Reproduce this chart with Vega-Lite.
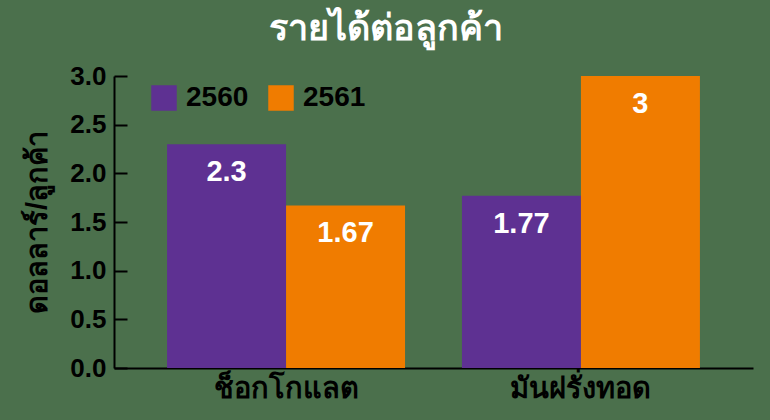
{
  "$schema": "https://vega.github.io/schema/vega-lite/v6.json",
  "width": 639,
  "height": 292,
  "autosize": {"type": "none"},
  "padding": {"left": 114, "top": 76, "right": 17, "bottom": 52},
  "background": "#4b704c",
  "config": {"view": {"stroke": null}},
  "title": {
    "text": "รายได้ต่อลูกค้า",
    "fontSize": 36,
    "fontWeight": "bold",
    "color": "white",
    "font": "Liberation Sans",
    "anchor": "middle",
    "dx": -48,
    "offset": 15
  },
  "data": {
    "values": [
      {"item": "ช็อกโกแลต", "year": "2560", "value": 2.3, "label": "2.3"},
      {"item": "ช็อกโกแลต", "year": "2561", "value": 1.67, "label": "1.67"},
      {"item": "มันฝรั่งทอด", "year": "2560", "value": 1.77, "label": "1.77"},
      {"item": "มันฝรั่งทอด", "year": "2561", "value": 3, "label": "3"}
    ]
  },
  "encoding": {
    "x": {
      "field": "item",
      "type": "nominal",
      "sort": null,
      "title": null,
      "scale": {"paddingInner": 0.193, "paddingOuter": 0.18},
      "axis": {
        "labelAngle": 0,
        "ticks": false,
        "domainColor": "black",
        "domainWidth": 2,
        "labelFontSize": 29,
        "labelFontWeight": "bold",
        "labelColor": "black",
        "labelFont": "Liberation Sans",
        "labelPadding": 6,
        "labelDx": -14
      }
    },
    "xOffset": {"field": "year", "type": "nominal", "scale": {"paddingInner": 0, "paddingOuter": 0}},
    "y": {
      "field": "value",
      "type": "quantitative",
      "title": "ดอลลาร์/ลูกค้า",
      "scale": {"domain": [0, 3], "nice": false},
      "axis": {
        "values": [0, 0.5, 1, 1.5, 2, 2.5, 3],
        "format": ".1f",
        "grid": false,
        "domainColor": "black",
        "domainWidth": 2,
        "tickColor": "black",
        "tickWidth": 2,
        "tickSize": -13,
        "labelFontSize": 26,
        "labelFontWeight": "bold",
        "labelColor": "black",
        "labelFont": "Liberation Sans",
        "labelPadding": 21,
        "titleFontSize": 29,
        "titleFontWeight": "bold",
        "titleColor": "black",
        "titleFont": "Liberation Sans",
        "titlePadding": 17
      }
    }
  },
  "layer": [
    {
      "mark": {"type": "bar"},
      "encoding": {
        "color": {
          "field": "year",
          "type": "nominal",
          "title": null,
          "scale": {"domain": ["2560", "2561"], "range": ["#5e3192", "#f07c00"]},
          "legend": {
            "orient": "none",
            "legendX": 36,
            "legendY": 8,
            "direction": "horizontal",
            "symbolType": "square",
            "symbolSize": 650,
            "symbolOpacity": 1,
            "symbolStrokeWidth": 0,
            "labelFontSize": 28,
            "labelFontWeight": "bold",
            "labelColor": "black",
            "labelFont": "Liberation Sans",
            "labelOffset": 8,
            "columnPadding": 18
          }
        }
      }
    },
    {
      "mark": {
        "type": "text",
        "baseline": "middle",
        "dy": 28,
        "color": "white",
        "fontSize": 29,
        "fontWeight": "bold",
        "font": "Liberation Sans"
      },
      "encoding": {"text": {"field": "label", "type": "nominal"}}
    }
  ]
}
